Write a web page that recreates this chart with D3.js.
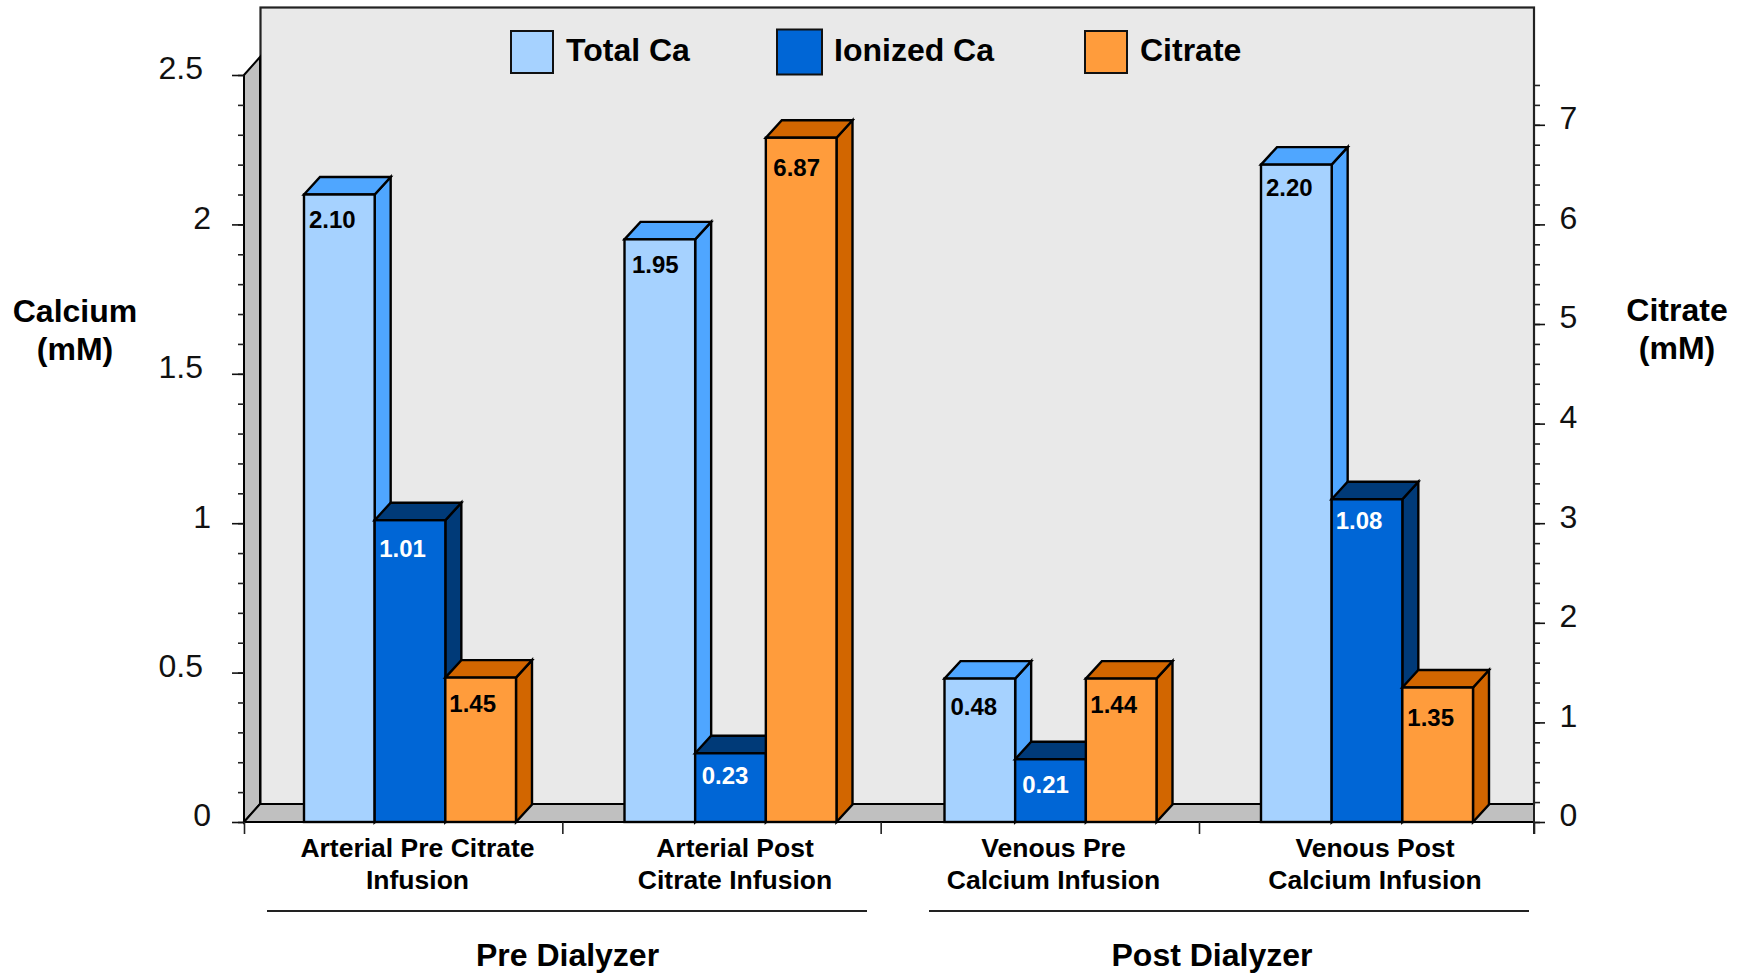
<!DOCTYPE html>
<html>
<head>
<meta charset="utf-8">
<script src="https://cdn.jsdelivr.net/npm/d3@7/dist/d3.min.js"></script>
<style>
  html, body { margin: 0; padding: 0; background: #fff; }
  svg { display: block; font-family: "Liberation Sans", Arial, sans-serif; }
  .domain { display: none; }
</style>
</head>
<body>
<svg id="chart" width="1740" height="973"></svg>
<script>
// Measured concentrations per sampling site
const categories = [
  ["Arterial Pre Citrate", "Infusion"],
  ["Arterial Post", "Citrate Infusion"],
  ["Venous Pre", "Calcium Infusion"],
  ["Venous Post", "Calcium Infusion"]
];
const seriesNames = ["Total Ca", "Ionized Ca", "Citrate"];
const totalCa = [2.10, 1.95, 0.48, 2.20];
const ionizedCa = [1.01, 0.23, 0.21, 1.08];
const citrate = [1.45, 6.87, 1.44, 1.35];
const calciumTicks = [0, 0.5, 1, 1.5, 2, 2.5];
const citrateTicks = [0, 1, 2, 3, 4, 5, 6, 7];
const regionNames = ["Pre Dialyzer", "Post Dialyzer"];

// Face, side/top and label colours for each series
const faceColors = ["#A6D2FF", "#0066D6", "#FF9C3C"];
const sideColors = ["#4FA6FF", "#003A78", "#D26600"];
const labelColors = ["#000", "#fff", "#000"];

// Value label offsets from the top-left corner of each bar, by series then site
const labelNudges = [
  [[5, 33], [7.5, 34], [6, 36], [5, 31]],
  [[4.5, 37], [6.5, 31], [7, 34], [4, 30]],
  [[4, 34], [7.5, 38], [4.5, 34], [5, 38]]
];

const svg = d3.select("#chart");
const depthX = 16, depthY = 17.5;
const baseY = 822, topY = 75;
const wallLeft = 244, wallRight = 1534, wallTop = 7;

// Both value axes share the same pixel range
const yCalcium = d3.scaleLinear().domain([0, 2.5]).range([baseY, topY]);
const yCitrate = d3.scaleLinear().domain([0, 7.5]).range([baseY, topY]);

// Site positions: group boundaries on the axis, and the left edge of each bar cluster
const xBoundary = d3.scaleLinear().domain([0, 3, 4]).range([wallLeft, 1199, wallRight]);
const xGroup = d3.scaleLinear().domain([0, 1, 2, 3]).range([304, 624.5, 944.5, 1261]);
const xSeries = d3.scaleBand().domain(d3.range(3)).range([0, 212]);
const xLabel = d3.scaleLinear().domain([0, 1, 2, 3]).range([417.5, 735, 1053.5, 1375]);

// Chart box: back wall, left wall and floor
svg.append("rect")
  .attr("x", wallLeft + depthX + 0.5).attr("y", wallTop + 0.5)
  .attr("width", wallRight - wallLeft - depthX - 0.5)
  .attr("height", baseY - 18 - wallTop)
  .attr("fill", "#E9E9E9").attr("stroke", "#222").attr("stroke-width", 2.2);

const poly = (pts) => "M" + pts.map(p => p.join(",")).join("L") + "Z";

svg.append("path")
  .attr("d", poly([[wallLeft, topY], [wallLeft + depthX, topY - 18], [wallLeft + depthX, baseY - 18], [wallLeft, baseY]]))
  .attr("fill", "#C0C0C0").attr("stroke", "#000").attr("stroke-width", 2);

svg.append("path")
  .attr("d", poly([[wallLeft, baseY], [wallLeft + depthX, baseY - 18], [wallRight, baseY - 18], [wallRight, baseY]]))
  .attr("fill", "#C0C0C0").attr("stroke", "#000").attr("stroke-width", 2);

// Left axis
const leftMinor = d3.range(0, 26).map(i => i / 10);
svg.append("g").attr("transform", `translate(${wallLeft},0)`)
  .call(d3.axisLeft(yCalcium).tickValues(leftMinor).tickSize(6).tickFormat(""))
  .selectAll("line").attr("stroke", "#222").attr("stroke-width", 1.6);
const leftMajor = svg.append("g").attr("transform", `translate(${wallLeft},0)`)
  .call(d3.axisLeft(yCalcium).tickValues(calciumTicks).tickSize(12).tickFormat(d => String(d)));
leftMajor.selectAll("line").attr("stroke", "#111").attr("stroke-width", 1.6);
leftMajor.selectAll("text")
  .attr("font-size", 32).attr("fill", "#111").attr("font-family", "Liberation Sans")
  .attr("dy", "3.8px")
  .attr("x", d => (Number.isInteger(d) ? 211 : 203) - wallLeft);

// Right axis
const rightMinor = d3.range(0, 38).map(i => i / 5);
svg.append("g").attr("transform", `translate(${wallRight},0)`)
  .call(d3.axisRight(yCitrate).tickValues(rightMinor).tickSize(6).tickFormat(""))
  .selectAll("line").attr("stroke", "#222").attr("stroke-width", 1.6);
const rightMajor = svg.append("g").attr("transform", `translate(${wallRight},0)`)
  .call(d3.axisRight(yCitrate).tickValues(citrateTicks).tickSize(11).tickFormat(d => String(d)));
rightMajor.selectAll("line").attr("stroke", "#111").attr("stroke-width", 1.6);
rightMajor.selectAll("text")
  .attr("font-size", 32).attr("fill", "#111").attr("font-family", "Liberation Sans")
  .attr("dy", "3.8px").attr("x", 25.5);
svg.append("line")
  .attr("x1", wallRight).attr("x2", wallRight)
  .attr("y1", wallTop).attr("y2", baseY + 12)
  .attr("stroke", "#222").attr("stroke-width", 2);

// Category boundary ticks below the floor
svg.append("g").attr("transform", `translate(0,${baseY})`)
  .call(d3.axisBottom(xBoundary).tickValues(d3.range(5)).tickSize(12).tickFormat(""))
  .selectAll("line").attr("stroke", "#222").attr("stroke-width", 1.6);

// Bars, drawn left to right so each one overlaps the side of its neighbour
const seriesValues = [totalCa, ionizedCa, citrate];
const seriesScale = [yCalcium, yCalcium, yCitrate];
const bars = [];
categories.forEach((_, g) => {
  seriesValues.forEach((vals, s) => {
    bars.push({ g, s, value: vals[g], y: seriesScale[s](vals[g]), x: xGroup(g) + xSeries(s) });
  });
});
const barW = xSeries.bandwidth();
const barG = svg.append("g").selectAll("g").data(bars).join("g")
  .attr("stroke", "#000").attr("stroke-width", 2.4).attr("stroke-linejoin", "miter");

barG.append("path")
  .attr("fill", d => sideColors[d.s])
  .attr("d", d => poly([[d.x + barW, d.y], [d.x + barW + depthX, d.y - depthY], [d.x + barW + depthX, baseY - depthY], [d.x + barW, baseY]]));
barG.append("path")
  .attr("fill", d => sideColors[d.s])
  .attr("d", d => poly([[d.x, d.y], [d.x + depthX, d.y - depthY], [d.x + barW + depthX, d.y - depthY], [d.x + barW, d.y]]));
barG.append("rect")
  .attr("x", d => d.x).attr("y", d => d.y)
  .attr("width", barW).attr("height", d => baseY - d.y)
  .attr("fill", d => faceColors[d.s]);

// Value labels inside the bars
svg.append("g").selectAll("text").data(bars).join("text")
  .attr("x", d => d.x + labelNudges[d.s][d.g][0])
  .attr("y", d => d.y + labelNudges[d.s][d.g][1])
  .attr("font-size", 24).attr("font-weight", "bold")
  .attr("fill", d => labelColors[d.s])
  .text(d => d.value.toFixed(2));

// Legend
const legendSwatchX = [511, 777, 1085];
const legendSwatchSize = [42, 45, 42];
const legendTextX = [566, 834, 1140];
const legend = svg.append("g").selectAll("g").data(seriesNames).join("g");
legend.append("rect")
  .attr("x", (_, i) => legendSwatchX[i])
  .attr("y", (_, i) => 52 - legendSwatchSize[i] / 2)
  .attr("width", (_, i) => legendSwatchSize[i])
  .attr("height", (_, i) => legendSwatchSize[i])
  .attr("fill", (_, i) => faceColors[i])
  .attr("stroke", "#111").attr("stroke-width", 2);
legend.append("text")
  .attr("x", (_, i) => legendTextX[i]).attr("y", 61)
  .attr("font-size", 32).attr("font-weight", "bold").attr("fill", "#000")
  .text(d => d);

// Category labels
const catLabels = svg.append("g").selectAll("text").data(categories).join("text")
  .attr("text-anchor", "middle").attr("font-size", 26.5).attr("font-weight", "bold").attr("fill", "#000");
catLabels.each(function (lines, i) {
  d3.select(this).selectAll("tspan").data(lines).join("tspan")
    .attr("x", xLabel(i)).attr("y", (_, j) => 857 + j * 32).text(d => d);
});

// Region brackets and names
const regionSpans = [[267, 867], [929, 1529]];
const regionCenters = [567.5, 1212];
regionNames.forEach((name, i) => {
  svg.append("line")
    .attr("x1", regionSpans[i][0]).attr("x2", regionSpans[i][1])
    .attr("y1", 911).attr("y2", 911)
    .attr("stroke", "#222").attr("stroke-width", 2);
  svg.append("text")
    .attr("x", regionCenters[i]).attr("y", 966)
    .attr("text-anchor", "middle").attr("font-size", 32).attr("font-weight", "bold")
    .text(name);
});

// Axis titles
const axisTitles = [
  { lines: ["Calcium", "(mM)"], x: 75, y: 322 },
  { lines: ["Citrate", "(mM)"], x: 1677, y: 321 }
];
axisTitles.forEach(t => {
  t.lines.forEach((line, j) => {
    svg.append("text")
      .attr("x", t.x).attr("y", t.y + j * 38)
      .attr("text-anchor", "middle").attr("font-size", 32).attr("font-weight", "bold")
      .text(line);
  });
});
</script>
</body>
</html>
